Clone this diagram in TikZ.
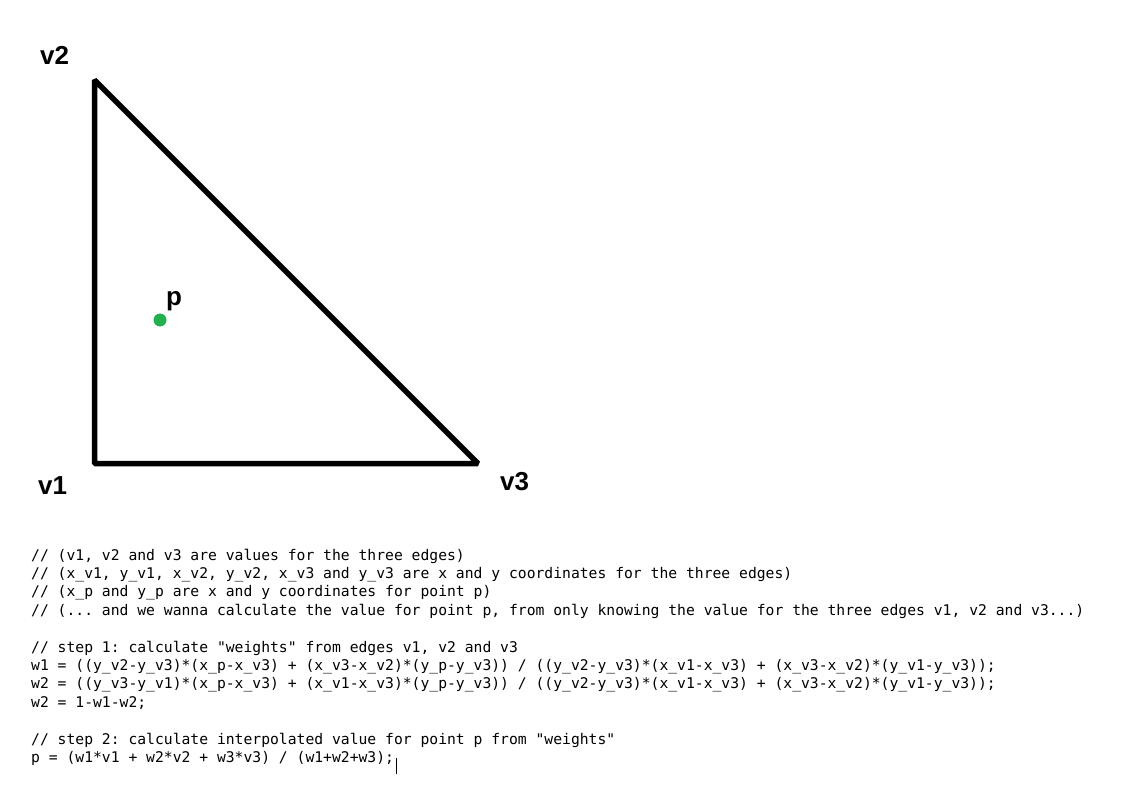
\documentclass[tikz,border=0pt]{standalone}
\usepackage{fontspec}
\setmainfont{Liberation Sans}
\setmonofont{DejaVu Sans Mono}
\definecolor{paintgreen}{RGB}{34,177,76}
\tikzset{corner/.style={font=\fontsize{26}{26}\selectfont\bfseries,inner sep=0pt,anchor=base west},
         codeline/.style={font=\fontsize{14.7}{14.7}\selectfont\ttfamily,inner sep=0pt,anchor=base west},
         edge/.style={line width=5.5pt,line join=bevel,black}}

\begin{document}
\begin{tikzpicture}[x=1pt,y=-1pt]
                  \useasboundingbox (0,0) rectangle (1129,805);
                  % triangle and the point inside
                  \coordinate (v1) at (94.5,463.5);
                  \coordinate (v2) at (94.5,80);
                  \coordinate (v3) at (478,463.5);
                  \coordinate (p) at (160,320);
                  \draw[edge] (v1) -- (v2) -- (v3) -- cycle;
                  \fill[paintgreen] (p) circle (6.5);
                  \node[corner] (lv2) at (40,65) {v2};
                  \node[corner] (lv1) at (38,494) {v1};
                  \node[corner] (lv3) at (500,490) {v3};
                  \node[corner] (lp) at (166,305.5) {p};
                  % the code below
                  \node[codeline] (c1) at (31,560) {// (v1, v2 and v3 are values for the three edges)};
                  \node[codeline] (c2) at (31,578.4) {// (x\_v1, y\_v1, x\_v2, y\_v2, x\_v3 and y\_v3 are x and y coordinates for the three edges)};
                  \node[codeline] (c3) at (31,596.8) {// (x\_p and y\_p are x and y coordinates for point p)};
                  \node[codeline] (c4) at (31,615.2) {// (... and we wanna calculate the value for point p, from only knowing the value for the three edges v1, v2 and v3...)};
                  \node[codeline] (c5) at (31,652) {// step 1: calculate "weights" from edges v1, v2 and v3};
                  \node[codeline] (c6) at (31,670.4) {w1 = ((y\_v2-y\_v3)*(x\_p-x\_v3) + (x\_v3-x\_v2)*(y\_p-y\_v3)) / ((y\_v2-y\_v3)*(x\_v1-x\_v3) + (x\_v3-x\_v2)*(y\_v1-y\_v3));};
                  \node[codeline] (c7) at (31,688.8) {w2 = ((y\_v3-y\_v1)*(x\_p-x\_v3) + (x\_v1-x\_v3)*(y\_p-y\_v3)) / ((y\_v2-y\_v3)*(x\_v1-x\_v3) + (x\_v3-x\_v2)*(y\_v1-y\_v3));};
                  \node[codeline] (c8) at (31,707.2) {w2 = 1-w1-w2;};
                  \node[codeline] (c9) at (31,744) {// step 2: calculate interpolated value for point p from "weights"};
                  \node[codeline] (c10) at (31,762.4) {p = (w1*v1 + w2*v2 + w3*v3) / (w1+w2+w3);};
                  \draw[line width=0.8pt] ([xshift=2pt,yshift=-12pt]c10.base east) -- ([xshift=2pt,yshift=4pt]c10.base east);
              \end{tikzpicture}
\end{document}
